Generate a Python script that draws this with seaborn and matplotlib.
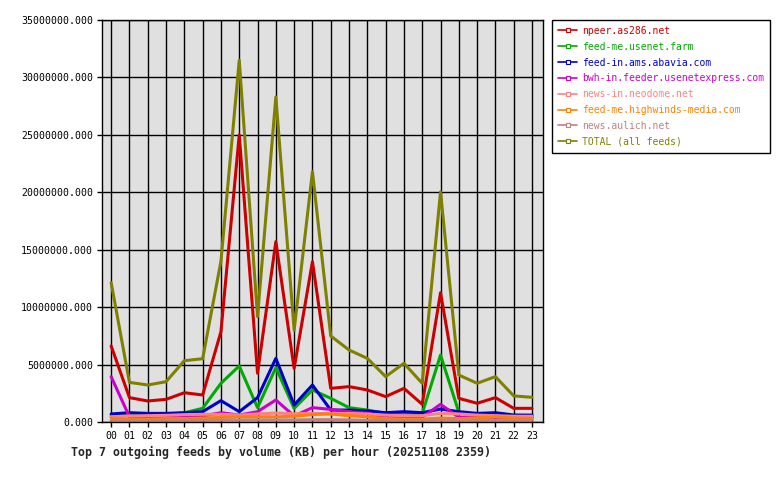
import matplotlib
matplotlib.use("Agg")
import matplotlib.pyplot as plt
from matplotlib.lines import Line2D
from matplotlib.ticker import FuncFormatter
import seaborn as sns
import pandas as pd
import numpy as np

# Hours of the day
hours = [f"{h:02d}" for h in range(24)]

feeds = ["npeer.as286.net",
         "feed-me.usenet.farm",
         "feed-in.ams.abavia.com",
         "bwh-in.feeder.usenetexpress.com",
         "news-in.neodome.net",
         "feed-me.highwinds-media.com",
         "news.aulich.net",
         "TOTAL (all feeds)"]

feed_colors = ["#cc0000", "#00aa00", "#0000cc", "#cc00cc",
               "#ff8080", "#ff8000", "#c08080", "#808000"]

# Volume per hour, millions of KB
npeer = [6.62, 2.12, 1.83, 1.97, 2.55, 2.35, 7.86, 25.0, 4.24, 15.7, 4.67, 13.96,
         2.93, 3.08, 2.79, 2.21, 2.93, 1.54, 11.26, 2.06, 1.63, 2.12, 1.19, 1.19]
usenet_farm = [0.55, 0.60, 0.60, 0.65, 0.80, 1.19, 3.37, 4.88, 1.25, 4.73, 1.19, 2.79,
               2.06, 1.25, 1.04, 0.75, 0.70, 0.75, 5.83, 0.85, 0.55, 0.50, 0.45, 0.45]
abavia = [0.70, 0.81, 0.75, 0.75, 0.81, 0.90, 1.86, 0.90, 2.12, 5.54, 1.48, 3.22,
          1.04, 1.04, 0.96, 0.81, 0.90, 0.81, 1.13, 0.90, 0.75, 0.81, 0.61, 0.60]
usenetexpress = [3.95, 0.45, 0.41, 0.41, 0.46, 0.52, 0.81, 0.60, 0.90, 1.92, 0.52, 1.25,
                 1.10, 0.90, 0.75, 0.41, 0.35, 0.41, 1.54, 0.41, 0.41, 0.41, 0.41, 0.41]
neodome = [0.46, 0.52, 0.55, 0.58, 0.64, 0.67, 0.67, 0.60, 0.70, 0.78, 0.72, 0.75,
           0.72, 0.75, 0.70, 0.60, 0.55, 0.55, 0.75, 0.70, 0.60, 0.55, 0.50, 0.50]
highwinds = [0.35, 0.25, 0.25, 0.30, 0.30, 0.35, 0.40, 0.45, 0.45, 0.45, 0.50, 0.65,
             0.70, 0.55, 0.45, 0.30, 0.25, 0.25, 0.35, 0.30, 0.35, 0.45, 0.35, 0.30]
aulich = [0.15, 0.15, 0.15, 0.15, 0.15, 0.15, 0.18, 0.18, 0.18, 0.18, 0.18, 0.20,
          0.20, 0.18, 0.15, 0.15, 0.15, 0.15, 0.18, 0.15, 0.15, 0.15, 0.15, 0.15]
total = [12.13, 3.45, 3.22, 3.51, 5.34, 5.51, 14.0, 31.5, 9.17, 28.3, 8.0, 21.8,
         7.49, 6.27, 5.54, 3.95, 5.11, 3.37, 20.05, 4.09, 3.37, 3.95, 2.27, 2.15]

series = [npeer, usenet_farm, abavia, usenetexpress, neodome, highwinds, aulich, total]

# Long-form table for seaborn
rows = []
for name, values in zip(feeds, series):
    for h, v in enumerate(values):
        rows.append({"feed": name, "hour": h, "kb": v * 1e6})
df = pd.DataFrame(rows)

sns.set_style("white")
plt.rcParams["font.family"] = ["DejaVu Sans Mono"]

fig = plt.figure(figsize=(7.8, 4.8), dpi=100)
ax = fig.add_axes([102 / 780, 58 / 480, 441 / 780, 402 / 480])
ax.set_facecolor("#e0e0e0")

sns.lineplot(data=df, x="hour", y="kb", hue="feed", hue_order=feeds,
             palette=dict(zip(feeds, feed_colors)), linewidth=2.2,
             legend=False, ax=ax)

# Axes
ax.set_xlim(-0.5, 23.6)
ax.set_ylim(0, 35e6)
ax.set_xticks(range(24), labels=hours)
ax.set_yticks(np.arange(0, 35e6 + 1, 5e6))
ax.yaxis.set_major_formatter(FuncFormatter(lambda v, _: f"{v:.3f}"))
ax.tick_params(axis="both", labelsize=7.1, colors="black", length=3.5, width=1,
               direction="out", bottom=True, left=True, pad=3)
ax.set_xlabel("")
ax.set_ylabel("")
ax.grid(True, color="black", linewidth=1)
ax.set_axisbelow(True)
for sp in ax.spines.values():
    sp.set_color("black")
    sp.set_linewidth(1)

# Title under the chart
fig.text(71 / 780, 1 - 452 / 480, "Top 7 outgoing feeds by volume (KB) per hour (20251108 2359)",
         fontsize=8.4, fontweight="bold", ha="left", va="center")

# Legend
handles = [Line2D([0], [0], color=c, linewidth=1.2, marker="s", markersize=2.5,
                  markerfacecolor="white", markeredgecolor=c, markeredgewidth=0.8)
           for c in feed_colors]
leg = fig.legend(handles, feeds, loc="upper left",
                 bbox_to_anchor=(552 / 780, 1 - 20 / 480), fontsize=7.0,
                 frameon=True, fancybox=False, framealpha=1, edgecolor="black",
                 handlelength=2.0, handletextpad=0.5, labelspacing=0.6,
                 borderpad=0.6, borderaxespad=0)
leg.get_frame().set_linewidth(1)
for txt, c in zip(leg.get_texts(), feed_colors):
    txt.set_color(c)

fig.savefig("out.png", dpi=100)
